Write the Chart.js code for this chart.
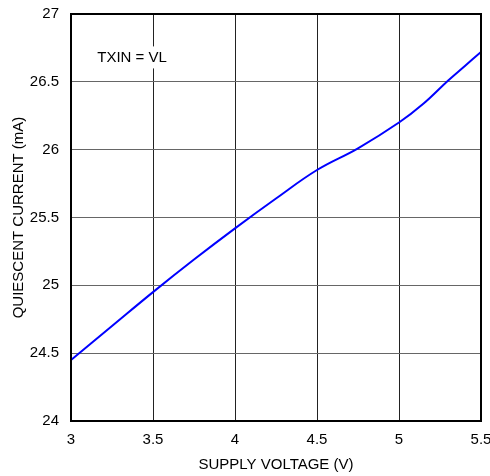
<!DOCTYPE html>
<html>
<head>
<meta charset="utf-8">
<script src="https://cdn.jsdelivr.net/npm/chart.js@4"></script>
<style>
  html, body { margin: 0; padding: 0; background: #fff; }
  #wrap { width: 490px; height: 476px; }
</style>
</head>
<body>
<div id="wrap"><canvas id="curve"></canvas></div>
<script>
// supply voltage (V) vs quiescent current (mA)
var voltage = [3, 3.25, 3.5, 3.75, 4, 4.25, 4.5, 4.75, 5, 5.15, 5.3, 5.4, 5.5];
var current = [24.45, 24.70, 24.95, 25.19, 25.42, 25.64, 25.85, 26.01, 26.2, 26.34, 26.51, 26.615, 26.72];
var xTicks = [3, 3.5, 4, 4.5, 5, 5.5];
var yTicks = [24, 24.5, 25, 25.5, 26, 26.5, 27];
var noteText = 'TXIN = VL';

var points = voltage.map(function (v, i) { return { x: v, y: current[i] }; });
var fontFam = '"Liberation Sans", Arial, sans-serif';

/* frame + note text */
var framePlugin = {
    id: 'frame',
    afterDatasetsDraw: function (chart) {
        var ctx = chart.ctx, a = chart.chartArea;
        var xs = chart.scales.x, ys = chart.scales.y;
        ctx.save();
        ctx.font = '15px ' + fontFam;
        ctx.textBaseline = 'middle';
        var tx = xs.getPixelForValue(3.16), ty = ys.getPixelForValue(26.68);
        var w = ctx.measureText(noteText).width;
        ctx.fillStyle = '#fff';
        ctx.fillRect(tx - 3, ty - 11, w + 6, 22);
        ctx.fillStyle = '#000';
        ctx.fillText(noteText, tx, ty);
        ctx.strokeStyle = '#000';
        ctx.lineWidth = 2;
        ctx.strokeRect(a.left, a.top, a.right - a.left, a.bottom - a.top);
        ctx.restore();
    }
};

new Chart(document.getElementById('curve'), {
    type: 'line',
    data: {
        datasets: [{
            data: points,
            borderColor: '#0000ff',
            borderWidth: 2,
            pointRadius: 0,
            tension: 0.4,
            fill: false
        }]
    },
    options: {
        responsive: true,
        maintainAspectRatio: false,
        animation: false,
        layout: { padding: { top: 14, right: 9, left: 0, bottom: 0 } },
        plugins: { legend: { display: false }, tooltip: { enabled: false } },
        scales: {
            x: {
                type: 'linear',
                min: 3, max: 5.5,
                afterBuildTicks: function (s) { s.ticks = xTicks.map(function (v) { return { value: v }; }); },
                afterFit: function (s) { s.height = 55; s.paddingLeft = 0; s.paddingRight = 0; },
                grid: { color: '#222', lineWidth: 1, drawTicks: false },
                border: { display: false },
                ticks: {
                    color: '#000', padding: 10,
                    font: { family: fontFam, size: 15 },
                    maxRotation: 0,
                    callback: function (v) { return String(v); }
                },
                title: {
                    display: true, text: 'SUPPLY VOLTAGE (V)', color: '#000',
                    font: { family: fontFam, size: 15 },
                    padding: { top: 4, bottom: 2 }
                }
            },
            y: {
                type: 'linear',
                min: 24, max: 27,
                afterBuildTicks: function (s) { s.ticks = yTicks.map(function (v) { return { value: v }; }); },
                afterFit: function (s) { s.width = 71; s.paddingTop = 0; s.paddingBottom = 0; },
                grid: { color: '#666', lineWidth: 1, drawTicks: false },
                border: { display: false },
                ticks: {
                    color: '#000', padding: 12,
                    font: { family: fontFam, size: 15 },
                    callback: function (v) { return String(v); }
                },
                title: {
                    display: true, text: 'QUIESCENT CURRENT (mA)', color: '#000',
                    font: { family: fontFam, size: 15 },
                    padding: { top: 9.5, bottom: 0 }
                }
            }
        }
    },
    plugins: [framePlugin]
});
</script>
</body>
</html>
